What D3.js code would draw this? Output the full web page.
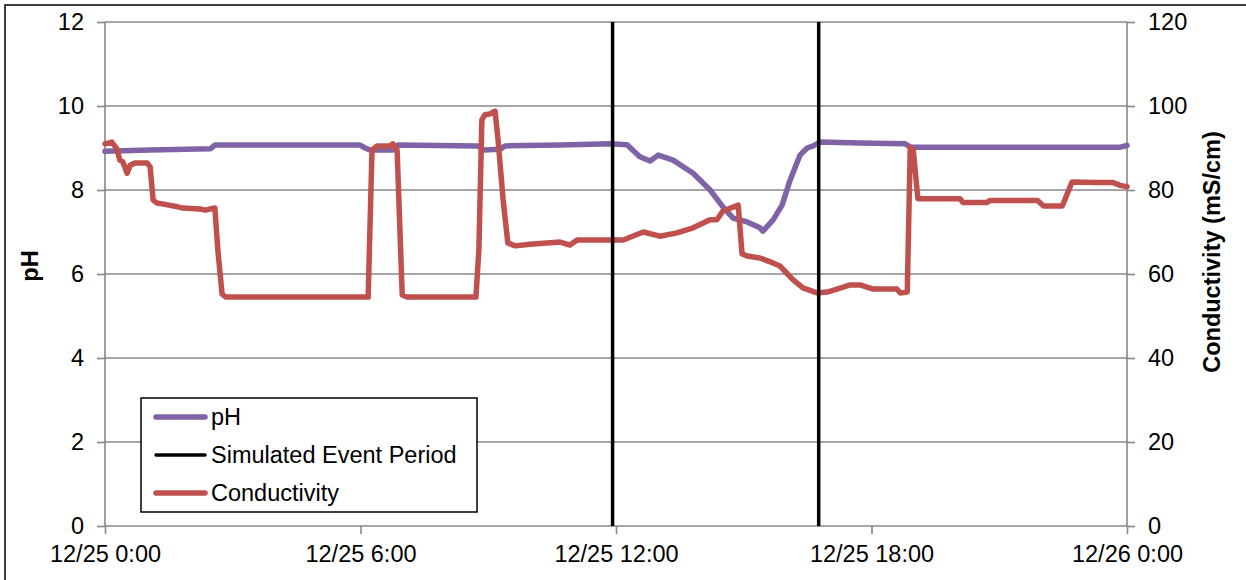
<!DOCTYPE html>
<html><head><meta charset="utf-8">
<script src="https://cdn.jsdelivr.net/npm/d3@7/dist/d3.min.js"></script>
<style>
html,body{margin:0;padding:0;background:#fff;overflow:hidden}
text{font-family:"Liberation Sans",Arial,sans-serif;fill:#000}
</style></head>
<body><svg id="c" width="1246" height="580"></svg>
<script>
// ---- data (hours after 12/25 0:00) ----
const phHours = [0, 1.06, 2.47, 2.58, 5.99, 6.11, 6.22, 6.76, 6.88, 8.76, 8.88, 9.28, 9.39, 10.69, 11.86, 12.26, 12.56, 12.80, 12.99, 13.34, 13.81, 14.21, 14.51, 14.75, 15.08, 15.38, 15.45, 15.69, 15.90, 16.09, 16.32, 16.49, 16.63, 16.79, 17.73, 18.79, 18.91, 21.02, 23.84, 24.0];
const phValues = [8.92, 8.95, 8.98, 9.07, 9.07, 9.0, 8.95, 8.95, 9.07, 9.05, 8.95, 8.97, 9.05, 9.07, 9.10, 9.08, 8.79, 8.69, 8.83, 8.71, 8.40, 8.0, 7.6, 7.33, 7.24, 7.10, 7.02, 7.29, 7.64, 8.24, 8.83, 9.0, 9.05, 9.14, 9.12, 9.10, 9.02, 9.02, 9.02, 9.06];
const condHours = [0, 0.16, 0.28, 0.35, 0.42, 0.52, 0.59, 0.70, 0.99, 1.06, 1.13, 1.22, 1.34, 1.71, 1.83, 2.23, 2.35, 2.58, 2.65, 2.75, 2.84, 6.11, 6.18, 6.27, 6.39, 6.69, 6.76, 6.86, 6.98, 7.09, 8.71, 8.78, 8.85, 8.92, 9.04, 9.16, 9.23, 9.35, 9.46, 9.63, 9.98, 10.69, 10.92, 11.09, 12.17, 12.64, 13.03, 13.43, 13.81, 14.21, 14.37, 14.51, 14.87, 14.96, 15.08, 15.38, 15.62, 15.85, 16.16, 16.39, 16.72, 16.96, 17.19, 17.50, 17.73, 18.04, 18.60, 18.67, 18.84, 18.91, 18.98, 19.09, 20.08, 20.15, 20.71, 20.78, 21.90, 22.04, 22.48, 22.71, 23.29, 23.66, 23.84, 24.0];
const condValues = [91.0, 91.4, 89.8, 87.1, 86.7, 84.0, 85.9, 86.4, 86.4, 85.5, 77.6, 76.9, 76.7, 76.0, 75.7, 75.5, 75.2, 75.7, 65.7, 55.2, 54.5, 54.5, 54.5, 89.5, 90.5, 90.5, 91.0, 89.5, 55.0, 54.5, 54.5, 65.7, 96.7, 97.9, 98.1, 98.8, 91.9, 77.6, 67.4, 66.7, 67.1, 67.6, 66.9, 68.1, 68.1, 70.0, 69.0, 69.8, 71.0, 72.9, 72.9, 75.0, 76.4, 64.8, 64.3, 63.8, 62.9, 61.9, 58.6, 56.7, 55.5, 55.7, 56.4, 57.4, 57.4, 56.4, 56.4, 55.5, 55.7, 90.2, 89.5, 77.9, 77.9, 77.0, 77.0, 77.5, 77.5, 76.2, 76.2, 81.9, 81.8, 81.8, 81.1, 80.8];
const eventHours = [11.92, 16.76];
const xTickHours = [0, 6, 12, 18, 24];
const phTicks = [0, 2, 4, 6, 8, 10, 12];
const condTicks = [0, 20, 40, 60, 80, 100, 120];
const legendLabels = ["pH", "Simulated Event Period", "Conductivity"];

const base = new Date(2011, 11, 25, 0, 0);
const toDate = h => new Date(base.getTime() + h * 3600000);

const svg = d3.select("#c");
const L = 105, R = 1127, T = 22, B = 526;
const x = d3.scaleTime().domain([toDate(0), toDate(24)]).range([L, R]);
const yL = d3.scaleLinear().domain([0, 12]).range([B, T]);
const yR = d3.scaleLinear().domain([0, 120]).range([B, T]);
const grey = "#878787", purple = "#7F63A6", red = "#C0504D";
const fs = 23.5;

// outer border
svg.append("rect").attr("x", 5).attr("y", 5).attr("width", 1260).attr("height", 600)
  .attr("fill", "none").attr("stroke", "#000").attr("stroke-width", 1.5);

// gridlines
svg.append("g").selectAll("line").data(phTicks.filter(d => d > 0)).join("line")
  .attr("x1", L).attr("x2", R).attr("y1", d => yL(d)).attr("y2", d => yL(d))
  .attr("stroke", grey).attr("stroke-width", 1.4);

// left axis
const axL = svg.append("g").attr("transform", `translate(${L},0)`)
  .call(d3.axisLeft(yL).tickValues(phTicks).tickSize(8).tickPadding(13).tickFormat(d3.format("d")));
// right axis
const axR = svg.append("g").attr("transform", `translate(${R},0)`)
  .call(d3.axisRight(yR).tickValues(condTicks).tickSize(8).tickPadding(13).tickFormat(d3.format("d")));
// bottom axis
const axB = svg.append("g").attr("transform", `translate(0,${B})`)
  .call(d3.axisBottom(x).tickValues(xTickHours.map(toDate)).tickSize(8).tickPadding(11)
    .tickFormat(d => d3.timeFormat("%m/%d")(d) + " " + d3.timeFormat("%-H:%M")(d)));
[axL, axR, axB].forEach(a => {
  a.selectAll("path").attr("stroke", grey).attr("stroke-width", 1.6);
  a.selectAll("line").attr("stroke", grey).attr("stroke-width", 1.6);
  a.selectAll("text").attr("font-size", fs).attr("font-family", "Liberation Sans, Arial, sans-serif").attr("fill", "#000");
});
axL.select(".domain").attr("d", `M0,${B}V${T}`);
axR.select(".domain").attr("d", `M0,${B}V${T}`);
axB.select(".domain").attr("d", `M${L},0H${R}`);

// axis titles
svg.append("text").attr("transform", `translate(38,${(T + B) / 2 - 8}) rotate(-90)`)
  .attr("text-anchor", "middle").attr("font-size", fs).attr("font-weight", "bold").text("pH");
svg.append("text").attr("transform", `translate(1220,${(T + B) / 2 - 22}) rotate(-90)`)
  .attr("text-anchor", "middle").attr("font-size", fs).attr("font-weight", "bold").text("Conductivity (mS/cm)");

// series
const phData = phHours.map((h, i) => [toDate(h), phValues[i]]);
const condData = condHours.map((h, i) => [toDate(h), condValues[i]]);
svg.append("path").datum(phData).attr("fill", "none").attr("stroke", purple).attr("stroke-width", 5.5)
  .attr("stroke-linejoin", "round").attr("stroke-linecap", "round")
  .attr("d", d3.line().x(d => x(d[0])).y(d => yL(d[1])));
svg.append("path").datum(condData).attr("fill", "none").attr("stroke", red).attr("stroke-width", 5.5)
  .attr("stroke-linejoin", "round").attr("stroke-linecap", "round")
  .attr("d", d3.line().x(d => x(d[0])).y(d => yR(d[1])));

// event lines
svg.append("g").selectAll("line").data(eventHours).join("line")
  .attr("x1", d => x(toDate(d))).attr("x2", d => x(toDate(d))).attr("y1", T).attr("y2", B)
  .attr("stroke", "#000").attr("stroke-width", 3.5);

// legend
const lg = svg.append("g");
lg.append("rect").attr("x", 141).attr("y", 398).attr("width", 336).attr("height", 114)
  .attr("fill", "#fff").attr("stroke", "#000").attr("stroke-width", 1.5);
const lgColors = [purple, "#000", red];
const lgY = [417, 455, 493];
legendLabels.forEach((t, i) => {
  lg.append("line").attr("x1", 156).attr("x2", 205).attr("y1", lgY[i]).attr("y2", lgY[i])
    .attr("stroke", lgColors[i]).attr("stroke-width", i === 1 ? 3.5 : 5.5).attr("stroke-linecap", "round");
  lg.append("text").attr("x", 211).attr("y", lgY[i] + 8).attr("font-size", fs).text(t);
});
</script></body></html>
